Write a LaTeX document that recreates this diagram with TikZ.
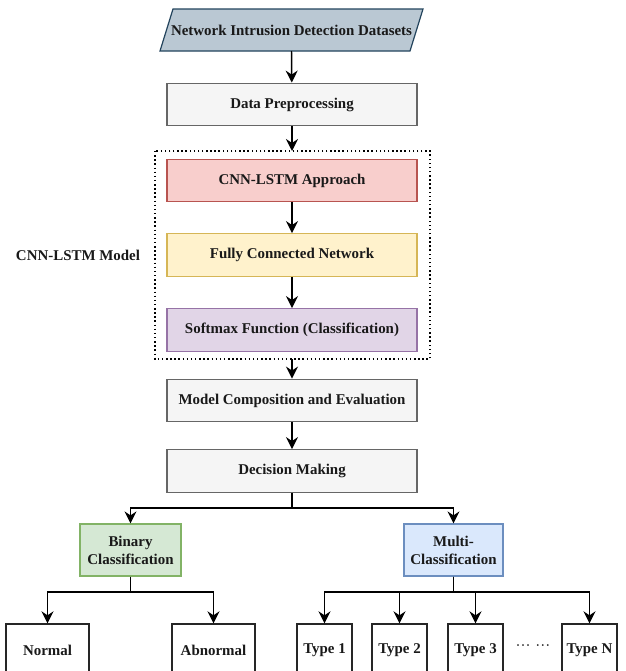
\documentclass[tikz,border=0pt]{standalone}
\usepackage{fontspec}
\setmainfont{Liberation Serif}
\usepackage{tikz}
\usetikzlibrary{arrows.meta,positioning,calc,backgrounds}
\definecolor{dsFill}{HTML}{BAC8D3}
\definecolor{dsLine}{HTML}{23445D}
\definecolor{grayFill}{HTML}{F5F5F5}
\definecolor{grayLine}{HTML}{666666}
\definecolor{redFill}{HTML}{F8CECC}
\definecolor{redLine}{HTML}{B85450}
\definecolor{yelFill}{HTML}{FFF2CC}
\definecolor{yelLine}{HTML}{D6B656}
\definecolor{purFill}{HTML}{E1D5E7}
\definecolor{purLine}{HTML}{9673A6}
\definecolor{grnFill}{HTML}{D5E8D4}
\definecolor{grnLine}{HTML}{82B366}
\definecolor{bluFill}{HTML}{DAE8FC}
\definecolor{bluLine}{HTML}{6C8EBF}

\begin{document}
\begin{tikzpicture}[x=0.75pt, y=-0.75pt,
  every node/.style={font=\fontsize{11.2}{13.5}\selectfont\bfseries, text=black!90},
  stage/.style={draw, line width=0.9pt, minimum width=187.5pt, minimum height=32pt, align=center},
  leaf/.style={draw=black!85, line width=1pt, fill=white, minimum height=39pt, align=center},
  flow/.style={-{Stealth[length=9pt,width=9pt,inset=3pt]}, line width=1.1pt, black}]
  \clip (0,0) rectangle (625,671);

  % input data
  \node (nids) at (291.5,30) {Network Intrusion Detection Datasets};
  \begin{scope}[on background layer]
    \fill[white] (0,0) rectangle (625,671);
    \draw[fill=dsFill, draw=dsLine, line width=0.9pt] (160,51) -- (410,51) -- (423,9) -- (173,9) -- cycle;
  \end{scope}

  % main column
  \node[stage, fill=grayFill, draw=grayLine] (prep) at (292,104.5) {Data Preprocessing};
  \node[stage, fill=redFill, draw=redLine] (cnn) at (292,180.5) {CNN-LSTM Approach};
  \node[stage, fill=yelFill, draw=yelLine] (fcn) at (292,255) {Fully Connected Network};
  \node[stage, fill=purFill, draw=purLine] (soft) at (292,330) {Softmax Function (Classification)};
  \node[stage, fill=grayFill, draw=grayLine] (comp) at (292,400.5) {Model Composition and Evaluation};
  \node[stage, fill=grayFill, draw=grayLine] (dec) at (292,471) {Decision Making};

  % model frame
  \draw[dotted, line width=1.1pt] (155,151) rectangle (430,359);
  \coordinate (boxtop) at (292,151);
  \coordinate (boxbot) at (292,359);
  \node (mlabel) at (78,255) {CNN-LSTM Model};

  \draw[flow] (nids.south |- 0,51) -- (prep);
  \draw[flow] (prep) -- (boxtop);
  \draw[flow] (cnn) -- (fcn);
  \draw[flow] (fcn) -- (soft);
  \draw[flow] (boxbot) -- (comp);
  \draw[flow] (comp) -- (dec);

  % classification
  \node[stage, fill=grnFill, draw=grnLine, minimum width=75.75pt, minimum height=39pt] (bin) at (130.5,550) {Binary\\Classification};
  \node[stage, fill=bluFill, draw=bluLine, minimum width=74.25pt, minimum height=39pt] (multi) at (453.5,550) {Multi-\\Classification};
  \draw[flow] (dec.south) -- (292,508) -| (bin.north);
  \draw[flow] (dec.south) -- (292,508) -| (multi.north);

  % outcomes
  \node[leaf, minimum width=62.25pt] (normal) at (47.5,650) {Normal};
  \node[leaf, minimum width=62.25pt] (abnormal) at (213.5,650) {Abnormal};
  \draw[flow] (bin.south) -- (130.5,592) -| (normal.north);
  \draw[flow] (bin.south) -- (130.5,592) -| (abnormal.north);

  \node[leaf, minimum width=41.25pt] (t1) at (324.5,650) {Type 1};
  \node[leaf, minimum width=41.25pt] (t2) at (399.5,650) {Type 2};
  \node[leaf, minimum width=41.25pt] (t3) at (475.5,650) {Type 3};
  \node[leaf, minimum width=41.25pt] (tn) at (589.5,650) {Type N};
  \node[font=\fontsize{11.2}{13.5}\selectfont, inner sep=0pt] (dots) at (533,648) {···\,\,···};
  \foreach \t in {t1,t2,t3,tn}
    \draw[flow] (multi.south) -- (453.5,592) -| (\t.north);
\end{tikzpicture}
\end{document}
